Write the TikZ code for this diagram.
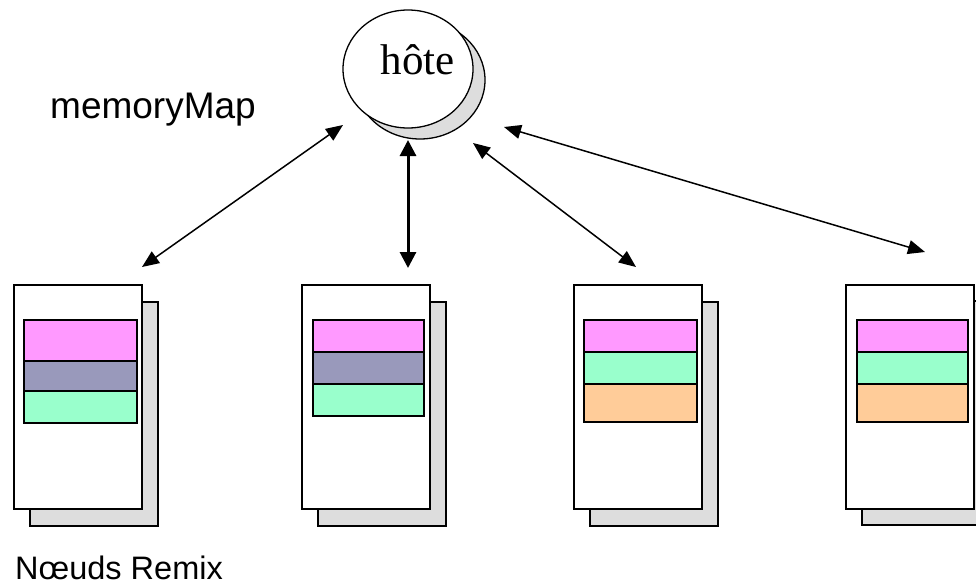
\documentclass[tikz,border=0pt]{standalone}
\usepackage{fontspec}
\setmainfont{Liberation Serif}
\newfontfamily\arialfont{Liberation Sans}
\usetikzlibrary{arrows.meta,shapes.geometric}
\definecolor{memPink}{HTML}{FF99FF}
\definecolor{memSlate}{HTML}{9999BB}
\definecolor{memMint}{HTML}{99FFCC}
\definecolor{memPeach}{HTML}{FFCC99}
\definecolor{shade}{HTML}{DDDDDD}
\begin{document}
\begin{tikzpicture}[x=1pt,y=-1pt,
  sheet/.style={draw=black,line width=1.6pt,fill=white,minimum width=128pt,
    minimum height=224pt,inner sep=0pt,anchor=north west},
  sheetshadow/.style={sheet,fill=shade},
  band/.style={draw=black,line width=1.6pt,inner sep=0pt,anchor=north west},
  hostshape/.style={ellipse,draw=black,line width=1.3pt,minimum width=130pt,
    minimum height=118pt,inner sep=0pt},
  link/.style={{Triangle[length=17pt,width=14pt]}-{Triangle[length=17pt,width=14pt]},
    line width=1.5pt},
  boldlink/.style={{Triangle[length=16pt,width=16pt]}-{Triangle[length=16pt,width=16pt]},
    line width=3pt},
  caption/.style={anchor=base west,inner sep=0pt},
]
\useasboundingbox (0,0) rectangle (976,587);
\clip (0,0) rectangle (976,587);

% host
\node[hostshape,fill=shade] (hostshadow) at (420,80) {};
\node[hostshape,fill=white] (host) at (408,69) {};
\node[inner sep=0pt,font=\fontsize{43}{50}\selectfont] (hostname) at (418,60) {hôte};

% node 1
\node[sheetshadow] (s1) at (29,301) {};
\node[sheet] (n1) at (13,284) {};
\node[band,fill=memPink,minimum width=113pt,minimum height=41pt] (n1a) at (23,319) {};
\node[band,fill=memSlate,minimum width=113pt,minimum height=30pt] (n1b) at (23,360) {};
\node[band,fill=memMint,minimum width=113pt,minimum height=32pt] (n1c) at (23,390) {};

% node 2
\node[sheetshadow] (s2) at (317,301) {};
\node[sheet] (n2) at (301,284) {};
\node[band,fill=memPink,minimum width=111pt,minimum height=32pt] (n2a) at (312,319) {};
\node[band,fill=memSlate,minimum width=111pt,minimum height=32pt] (n2b) at (312,351) {};
\node[band,fill=memMint,minimum width=111pt,minimum height=32pt] (n2c) at (312,383) {};

% node 3
\node[sheetshadow] (s3) at (589,301) {};
\node[sheet] (n3) at (573,284) {};
\node[band,fill=memPink,minimum width=113pt,minimum height=32pt] (n3a) at (583,319) {};
\node[band,fill=memMint,minimum width=113pt,minimum height=32pt] (n3b) at (583,351) {};
\node[band,fill=memPeach,minimum width=113pt,minimum height=38pt] (n3c) at (583,383) {};

% node 4
\node[sheetshadow] (s4) at (861,300) {};
\node[sheet] (n4) at (845,284) {};
\node[band,fill=memPink,minimum width=111pt,minimum height=32pt] (n4a) at (856,319) {};
\node[band,fill=memMint,minimum width=111pt,minimum height=32pt] (n4b) at (856,351) {};
\node[band,fill=memPeach,minimum width=111pt,minimum height=38pt] (n4c) at (856,383) {};

% connector ends
\coordinate (h1) at (343,125);
\coordinate (e1) at (142,267);
\coordinate (h2) at (408,140);
\coordinate (e2) at (408,268);
\coordinate (h3) at (473,143);
\coordinate (e3) at (636,267);
\coordinate (h4) at (504,127);
\coordinate (e4) at (925,252);

\draw[link] (h1) -- (e1);
\draw[boldlink] (h2) -- (e2);
\draw[link] (h3) -- (e3);
\draw[link] (h4) -- (e4);

% captions
\node[caption,font=\arialfont\fontsize{37}{44}\selectfont] (maplabel) at (50,118) {memoryMap};
\node[caption,font=\arialfont\fontsize{32.5}{40}\selectfont] (nodelabel) at (15,579) {Nœuds Remix};
\end{tikzpicture}
\end{document}
